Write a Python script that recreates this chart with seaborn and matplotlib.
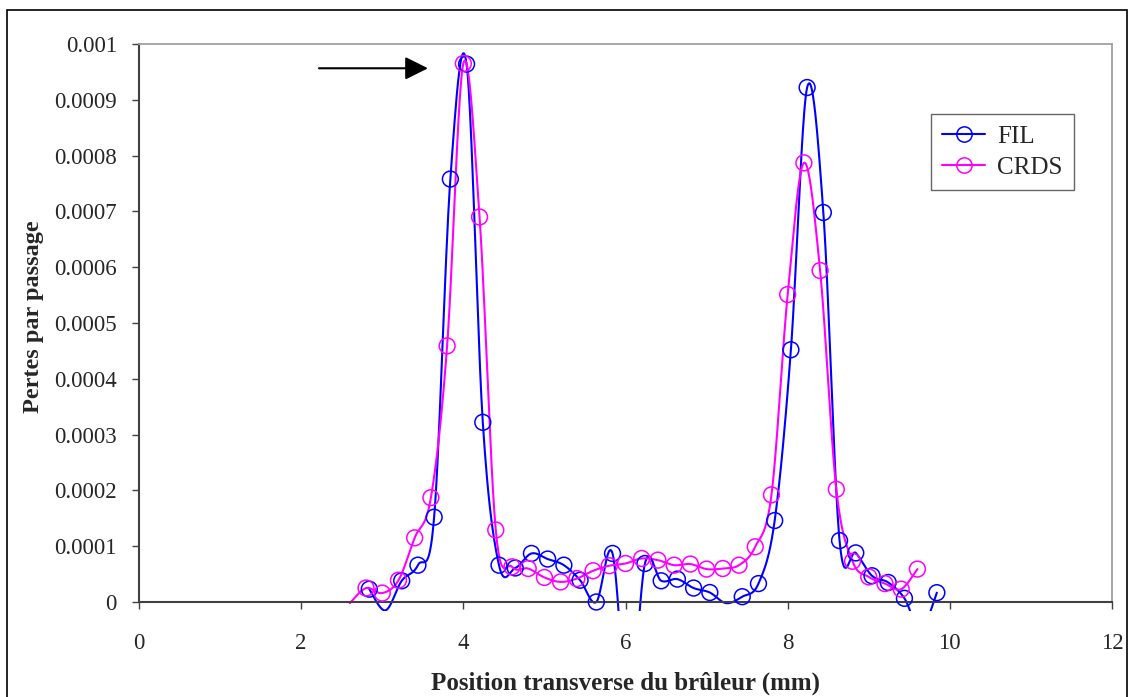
import numpy as np
import pandas as pd
import matplotlib.pyplot as plt
import seaborn as sns
from matplotlib.lines import Line2D
from matplotlib.patches import Rectangle

# FIL series (position in mm, losses per pass)
fil_x = [2.84, 3.04, 3.24, 3.44, 3.64, 3.84, 4.04, 4.24, 4.44, 4.64, 4.84, 5.04,
         5.24, 5.44, 5.64, 5.84, 6.04, 6.24, 6.44, 6.64, 6.84, 7.04, 7.24, 7.44,
         7.64, 7.84, 8.04, 8.24, 8.44, 8.64, 8.84, 9.04, 9.24, 9.44, 9.64, 9.84]
fil_y = [2.3e-5, -1.5e-5, 3.8e-5, 6.6e-5, 1.52e-4, 7.58e-4, 9.64e-4, 3.22e-4,
         6.6e-5, 6.1e-5, 8.7e-5, 7.7e-5, 6.6e-5, 3.9e-5, 0.0, 8.7e-5, -2e-4,
         6.9e-5, 3.8e-5, 4.1e-5, 2.5e-5, 1.7e-5, -2e-6, 9.5e-6, 3.3e-5, 1.46e-4,
         4.52e-4, 9.22e-4, 6.98e-4, 1.1e-4, 8.8e-5, 4.7e-5, 3.5e-5, 6.6e-6,
         -5e-5, 1.67e-5]

# CRDS series
crds_x = [2.6, 2.8, 3.0, 3.2, 3.4, 3.6, 3.8, 4.0, 4.2, 4.4, 4.6, 4.8, 5.0, 5.2,
          5.4, 5.6, 5.8, 6.0, 6.2, 6.4, 6.6, 6.8, 7.0, 7.2, 7.4, 7.6, 7.8, 8.0,
          8.2, 8.4, 8.6, 8.8, 9.0, 9.2, 9.4, 9.6]
crds_y = [-2e-6, 2.5e-5, 1.6e-5, 3.9e-5, 1.15e-4, 1.87e-4, 4.59e-4, 9.65e-4,
          6.9e-4, 1.29e-4, 6.3e-5, 6.0e-5, 4.4e-5, 3.6e-5, 4.2e-5, 5.6e-5,
          6.5e-5, 6.9e-5, 7.8e-5, 7.5e-5, 6.6e-5, 6.8e-5, 5.9e-5, 6.0e-5,
          6.6e-5, 9.9e-5, 1.92e-4, 5.51e-4, 7.87e-4, 5.94e-4, 2.02e-4, 7.3e-5,
          4.5e-5, 3.3e-5, 2.3e-5, 5.9e-5]

series = [("FIL", fil_x, fil_y, "#0000FF"), ("CRDS", crds_x, crds_y, "#FF00FF")]


def smooth(x, y, n=24):
    # spreadsheet-style smoothed line: bezier through the points
    p = np.column_stack([x, y])
    pe = np.vstack([p[0], p, p[-1]])
    t = np.linspace(0, 1, n)[:, None]
    out = []
    for i in range(len(p) - 1):
        p0, p1, p2, p3 = pe[i], pe[i + 1], pe[i + 2], pe[i + 3]
        c1 = p1 + (p2 - p0) / 6
        c2 = p2 - (p3 - p1) / 6
        seg = (1 - t) ** 3 * p1 + 3 * (1 - t) ** 2 * t * c1 + 3 * (1 - t) * t ** 2 * c2 + t ** 3 * p2
        out.append(seg if i == 0 else seg[1:])
    return np.vstack(out)


sns.set_theme(style="white")
plt.rcParams["font.family"] = ["Liberation Serif", "DejaVu Serif"]

fig = plt.figure(figsize=(11.28, 6.97), dpi=100)
ax = fig.add_axes([139 / 1128, 1 - 602 / 697, 973 / 1128, 558 / 697])

clip = Rectangle((0, -9 / 558), 1, 1 + 9 / 558, transform=ax.transAxes,
                 facecolor="none", edgecolor="none")
ax.add_patch(clip)

handles = []
for name, xs, ys, col in series:
    sm = smooth(xs, ys)
    df = pd.DataFrame({"x": sm[:, 0], "y": sm[:, 1]})
    sns.lineplot(data=df, x="x", y="y", sort=False, estimator=None,
                 color=col, linewidth=1.5, ax=ax)
    ax.lines[-1].set_clip_path(clip)
    pts = pd.DataFrame({"x": xs, "y": ys})
    pts = pts[pts["y"] >= 0]
    sns.scatterplot(data=pts, x="x", y="y", marker="o", s=130,
                    facecolors="none", edgecolor=col, linewidth=1.1,
                    ax=ax, zorder=3)
    ax.collections[-1].set_clip_on(False)
    handles.append(Line2D([], [], color=col, lw=1.5, marker="o", markersize=11,
                          markerfacecolor="none", markeredgecolor=col,
                          markeredgewidth=1.1, label=name))

ax.set_xlim(0, 12)
ax.set_ylim(0, 0.001)
ax.set_xticks(np.arange(0, 13, 2))
yt = np.round(np.arange(0, 0.00105, 0.0001), 4)
ax.set_yticks(yt)
ax.set_yticklabels([f"{v:g}" for v in yt])
ax.tick_params(axis="both", labelsize=16.5, direction="out", length=5, width=1,
               color="#404040", left=True, bottom=True)
ax.tick_params(axis="y", pad=11)
ax.tick_params(axis="x", pad=17)

for side in ["left", "bottom"]:
    ax.spines[side].set_color("#404040")
    ax.spines[side].set_linewidth(1.5)
for side in ["top", "right"]:
    ax.spines[side].set_color("#a0a0a0")
    ax.spines[side].set_linewidth(1.3)

ax.set_xlabel("Position transverse du brûleur (mm)", fontsize=18, fontweight="bold")
ax.set_ylabel("Pertes par passage", fontsize=17.5, fontweight="bold")
ax.xaxis.set_label_coords(0.5, -0.125)
ax.yaxis.set_label_coords(-0.098, 0.512)

ax.annotate("", xy=(3.564, 9.565e-4), xytext=(2.22, 9.565e-4),
            arrowprops=dict(arrowstyle="-|>,head_length=1.0,head_width=0.5",
                            mutation_scale=14, color="black", lw=1.5,
                            shrinkA=0, shrinkB=0))

leg = ax.legend(handles=handles, loc="upper left",
                bbox_to_anchor=(931 / 1128, 1 - 114 / 697),
                bbox_transform=fig.transFigure, borderaxespad=0,
                fontsize=18, frameon=True, fancybox=False, handlelength=1.7,
                handletextpad=0.5, labelspacing=0.35, borderpad=0.45)
leg.get_frame().set_edgecolor("#404040")
leg.get_frame().set_linewidth(1.0)

fig.add_artist(Rectangle((7 / 1128, -0.05), 1120 / 1128, 1.05 - 10 / 697,
                         transform=fig.transFigure, fill=False,
                         edgecolor="black", linewidth=1.2))

fig.savefig("out.png", dpi=100)
